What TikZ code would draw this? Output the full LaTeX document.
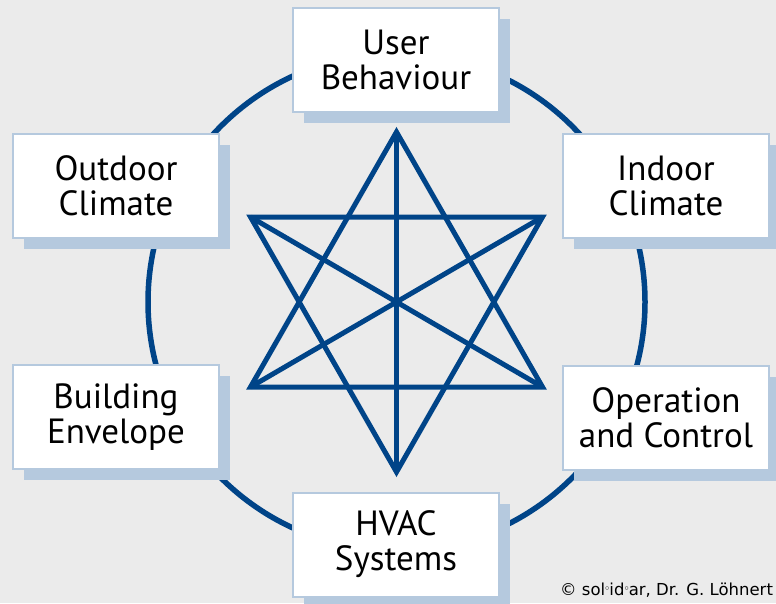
\documentclass[tikz,border=0pt]{standalone}
\usepackage{fontspec}
\setmainfont{PT Sans}
\newfontfamily\creditfont{DejaVu Sans}
\usetikzlibrary{shadows}

\definecolor{starblue}{HTML}{004488}
\definecolor{frameblue}{HTML}{B5C9DE}
\definecolor{backgray}{HTML}{EBEBEB}

\tikzset{
    factor/.style={draw=frameblue, line width=2pt, fill=white,
        minimum width=206pt, minimum height=104pt, inner sep=0pt,
        align=center, font=\fontsize{35}{35}\selectfont,
        drop shadow={shadow xshift=11pt, shadow yshift=-11pt,
            fill=frameblue, opacity=1}},
    starline/.style={starblue, line width=5pt, miter limit=10}
}

\newcommand{\solring}{\raisebox{0.45ex}{$\scriptscriptstyle\circ$}}

\begin{document}
\begin{tikzpicture}[x=1pt, y=-1pt]
                \fill [backgray] (0, 0) rectangle (776, 603);
                \useasboundingbox (0, 0) rectangle (776, 603);
                % ring behind the boxes
                \draw [starblue, line width=5.5pt] (396.5, 302) circle (248.5pt);
                % star
                \coordinate (top) at (396.5, 132);
                \coordinate (bottom) at (396.5, 472);
                \coordinate (upleft) at (250.5, 217);
                \coordinate (upright) at (542.5, 217);
                \coordinate (lowleft) at (250.5, 387);
                \coordinate (lowright) at (542.5, 387);
                \draw [starline] (top) -- (lowright) -- (lowleft) -- cycle;
                \draw [starline] (bottom) -- (upleft) -- (upright) -- cycle;
                \draw [starline] (top) -- (bottom);
                \draw [starline] (upleft) -- (lowright);
                \draw [starline] (upright) -- (lowleft);
                % boxes
                \node [factor] (user) at (396, 60) {User\\Behaviour};
                \node [factor] (outdoor) at (116, 186) {Outdoor\\Climate};
                \node [factor] (indoor) at (666, 186) {Indoor\\Climate};
                \node [factor] (building) at (116, 417) {Building\\Envelope};
                \node [factor] (operation) at (666, 418) {Operation\\and Control};
                \node [factor] (hvac) at (396, 544.5) {HVAC\\Systems};
                \node [anchor=base west, inner sep=0pt, font=\creditfont\fontsize{16.5}{16.5}\selectfont]
                    (credit) at (560, 595) {© sol\solring id\solring ar, Dr. G. Löhnert};
            \end{tikzpicture}
\end{document}
